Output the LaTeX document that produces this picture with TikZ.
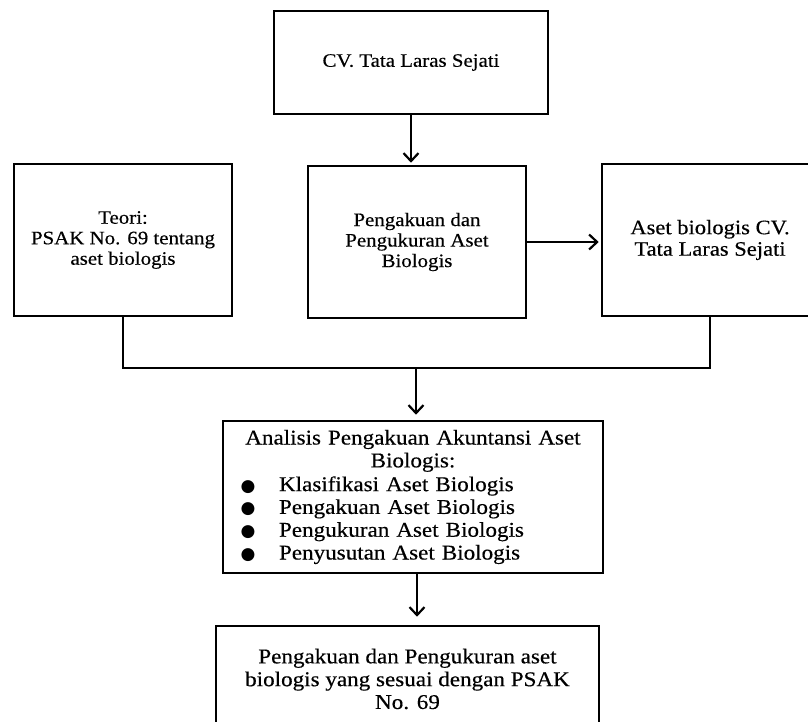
\documentclass[tikz,border=0pt]{standalone}
\usepackage{fontspec}
\setmainfont{Liberation Serif}[FakeStretch=1.1, FakeBold=0.4]
\newfontfamily\dvsfont{DejaVu Sans}
\usetikzlibrary{arrows.meta}
\newcommand\bitem[1]{\makebox[370pt][l]{\hspace*{14pt}\makebox[12pt][c]{\smash{{\dvsfont\fontsize{17}{17}\selectfont ●}}}\hspace*{25pt}#1}}
\begin{document}
\begin{tikzpicture}[x=1pt,y=-1pt,
  box/.style={draw=black, line width=2.6pt, rectangle, inner sep=0pt, align=center},
  conn/.style={draw=black, line width=2.2pt},
  arr/.style={conn, -{Straight Barb[length=8pt,width=15pt,line width=2.2pt]}},
  fsA/.style={font=\fontsize{19}{20.5}\selectfont},
  fsB/.style={font=\fontsize{20.5}{21.5}\selectfont},
  fsC/.style={font=\fontsize{21}{22.8}\selectfont}]
\useasboundingbox (0,0) rectangle (808,721);
\clip (0,0) rectangle (808,721);
\fill[white] (0,0) rectangle (808,721);

\node[box, fsA, minimum width=274pt, minimum height=103pt] (top) at (411,62.5) {CV. Tata Laras Sejati};
\node[box, fsA, minimum width=218pt, minimum height=152pt] (left) at (123,240) {Teori:\\ PSAK No. 69 tentang\\ aset biologis};
\node[box, fsA, minimum width=218pt, minimum height=152pt] (mid) at (417,242) {Pengakuan dan\\ Pengukuran Aset\\ Biologis};
\node[box, fsB, minimum width=216pt, minimum height=152pt] (right) at (710,240) {Aset biologis CV.\\ Tata Laras Sejati};
\node[box, fsC, minimum width=380pt, minimum height=152pt, text width=370pt] (ana) at (413,497)
  {Analisis Pengakuan Akuntansi Aset\\ Biologis:\\[1pt]
   \bitem{Klasifikasi Aset Biologis}\\
   \bitem{Pengakuan Aset Biologis}\\
   \bitem{Pengukuran Aset Biologis}\\
   \bitem{Penyusutan Aset Biologis}};
\node[box, fsC, minimum width=383pt, minimum height=106pt] (bot) at (407.5,679) {Pengakuan dan Pengukuran aset\\ biologis yang sesuai dengan PSAK\\ No. 69};

\coordinate (J) at (416,368);

\draw[arr, shorten >=2pt] (top.south) -- (top.south |- mid.north);
\draw[arr, shorten >=2pt] (mid.east) -- (mid.east -| right.west);
\draw[conn] (left.south) |- (J) -| (right.south);
\draw[arr, shorten >=5pt] (J) -- (J |- ana.north);
\draw[arr, shorten >=8pt] (ana.south -| 417,0) -- (bot.north -| 417,0);
\end{tikzpicture}
\end{document}
